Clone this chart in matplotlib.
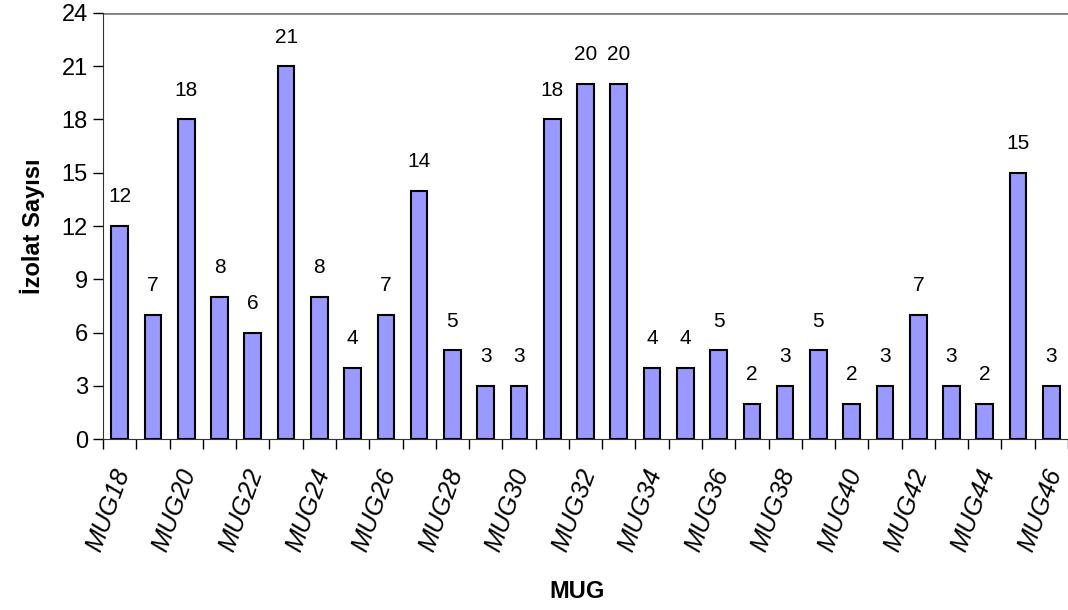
import matplotlib
matplotlib.use("Agg")
import matplotlib.pyplot as plt
import numpy as np

plt.rcParams['font.family'] = ['Liberation Sans', 'DejaVu Sans']

# isolate counts per MUG marker
markers = ["MUG%d" % n for n in range(18, 47)]
counts = [12, 7, 18, 8, 6, 21, 8, 4, 7, 14, 5, 3, 3, 18, 20, 20,
          4, 4, 5, 2, 3, 5, 2, 3, 7, 3, 2, 15, 3]

fig = plt.figure(figsize=(10.68, 6.10), dpi=100)
ax = fig.add_axes([0.0965, 0.2803, 0.9035, 0.6984])

x = np.arange(len(markers))
ax.bar(x, counts, width=0.5, color="#9999ff", edgecolor="black", linewidth=1.5, zorder=3)

for xi, c in zip(x, counts):
    ax.text(xi, c + 1.1, str(c), ha="center", va="bottom", fontsize=15)

ax.set_xlim(-0.5, len(markers) - 0.5)
ax.set_ylim(0, 24)
ax.set_yticks(range(0, 25, 3))
ax.tick_params(axis="y", labelsize=17, length=7, width=1, direction="out", pad=4)

# ticks at category boundaries, labels on every other category
ax.set_xticks(np.arange(-0.5, len(markers), 1.0))
ax.set_xticklabels([])
ax.tick_params(axis="x", length=7, width=1, direction="out")
for xi, name in zip(x[::2], markers[::2]):
    ax.text(xi + 0.1, -1.7, name, rotation=70, rotation_mode="anchor",
            ha="right", va="center", fontsize=18, style="italic")

ax.axhline(24, color="#808080", linewidth=2, zorder=2)
ax.spines["top"].set_visible(False)
ax.spines["right"].set_visible(False)
ax.spines["left"].set_color("#333333")
ax.spines["bottom"].set_color("#333333")

ax.set_ylabel("İzolat Sayısı", fontsize=17, fontweight="bold", labelpad=12)
fig.text(0.54, 0.03, "MUG", ha="center", va="center", fontsize=17, fontweight="bold")

fig.savefig("out.png", dpi=100)
